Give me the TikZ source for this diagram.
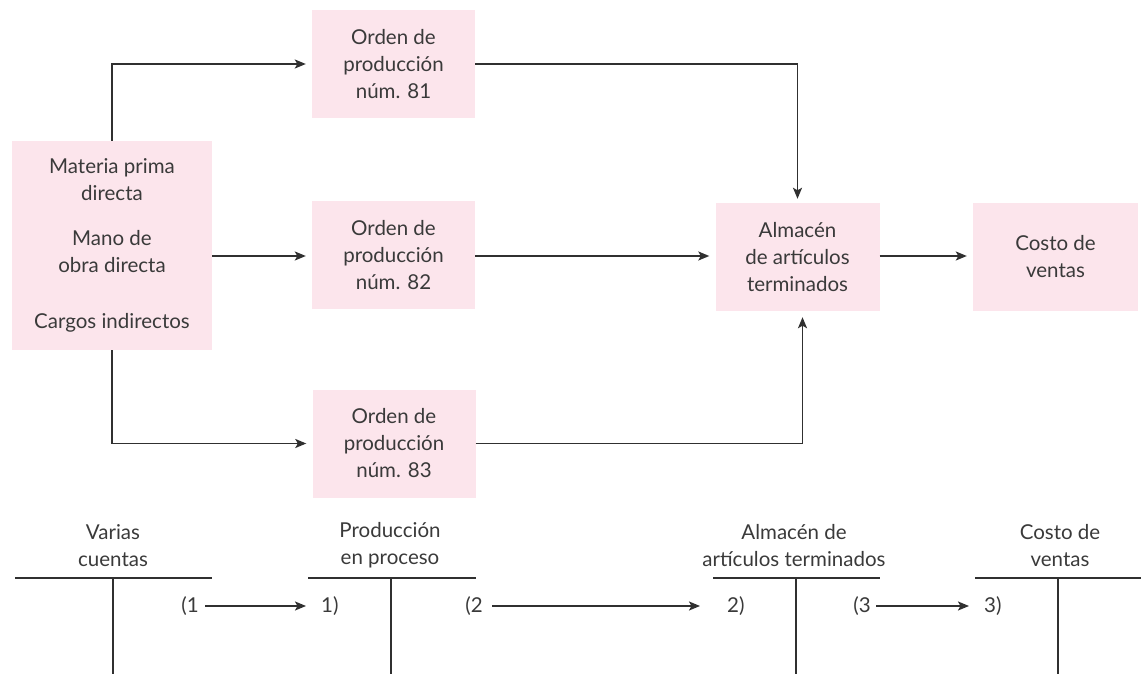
\documentclass[tikz,border=0pt]{standalone}
\usepackage{fontspec}
\setmainfont{Lato}
\usetikzlibrary{arrows.meta}
\definecolor{boxpink}{HTML}{FCE5EC}
\definecolor{ink}{HTML}{3A3A3A}
\definecolor{wire}{HTML}{303030}
\begin{document}
\begin{tikzpicture}[x=1pt,y=-1pt,
  txt/.style={text=ink, font=\fontsize{20.5}{27}\selectfont},
  box/.style={txt, fill=boxpink, inner sep=0pt, align=center},
  arr/.style={draw=wire, line width=1.7pt, -{Stealth[length=11pt,width=9pt,inset=2.5pt]}, shorten >=6pt},
  tline/.style={draw=wire, line width=1.7pt},
  title/.style={txt, align=center, inner sep=0pt},
  entry/.style={txt, inner sep=0pt}]
\useasboundingbox (0,0) rectangle (1141,674);

% --- flow of costs through the job orders ---
\node[box, minimum width=200pt, minimum height=209pt] (L) at (112,245.5)
  {Materia prima\\directa\\[18pt]Mano de\\obra directa\\[29pt]Cargos indirectos};
\node[box, minimum width=163pt, minimum height=108pt] (o81) at (393.5,64) {Orden de\\producción\\núm. 81};
\node[box, minimum width=163pt, minimum height=108pt] (o82) at (393.5,255) {Orden de\\producción\\núm. 82};
\node[box, minimum width=163pt, minimum height=108pt] (o83) at (394,443.5) {Orden de\\producción\\núm. 83};
\node[box, minimum width=164pt, minimum height=108pt] (A) at (797.5,257) {Almacén\\de artículos\\terminados};
\node[box, minimum width=165pt, minimum height=108pt] (C) at (1055.5,257) {Costo de\\ventas};

\draw[arr] (L.north) |- (o81.west);
\draw[arr] ([yshift=-1pt]L.east |- o82.west) -- ([yshift=-1pt]o82.west);
\draw[arr] (L.south) |- (o83.west);
\draw[arr, shorten >=4pt] (o81.east) -| (A.north);
\draw[arr] ([yshift=-1pt]o82.east) -- ([yshift=-1pt]A.west |- o82.east);
\draw[arr] (o83.east) -| ([xshift=5pt]A.south);
\draw[arr] ([yshift=1pt]A.east) -- ([yshift=1pt]C.west);

% --- T-accounts ---
\node[title] (t1) at (113,545.5) {Varias\\cuentas};
\node[title] (t2) at (390,545.5) {Producción\\en proceso};
\node[title] (t3) at (794,545.5) {Almacén de\\artículos terminados};
\node[title] (t4) at (1060,545.5) {Costo de\\ventas};

\draw[tline] (15,578) -- (212,578) (113,578) -- (113,674);
\draw[tline] (308,578) -- (476,578) (391,578) -- (391,674);
\draw[tline] (713,578) -- (880,578) (796,578) -- (796,674);
\draw[tline] (975,578) -- (1141,578) (1058,578) -- (1058,674);

\node[entry, anchor=east] (c1) at (199,606) {(1};
\node[entry, anchor=west] (d1) at (321,606) {1)};
\node[entry, anchor=east] (c2) at (483,606) {(2};
\node[entry, anchor=west] (d2) at (727,606) {2)};
\node[entry, anchor=east] (c3) at (871,606) {(3};
\node[entry, anchor=west] (d3) at (984,606) {3)};

\draw[arr, shorten <=6pt, shorten >=15pt] (c1.east) -- (d1.west);
\draw[arr, shorten <=9pt, shorten >=27pt] (c2.east) -- (d2.west);
\draw[arr, shorten <=5pt, shorten >=15pt] (c3.east) -- (d3.west);
\end{tikzpicture}
\end{document}
